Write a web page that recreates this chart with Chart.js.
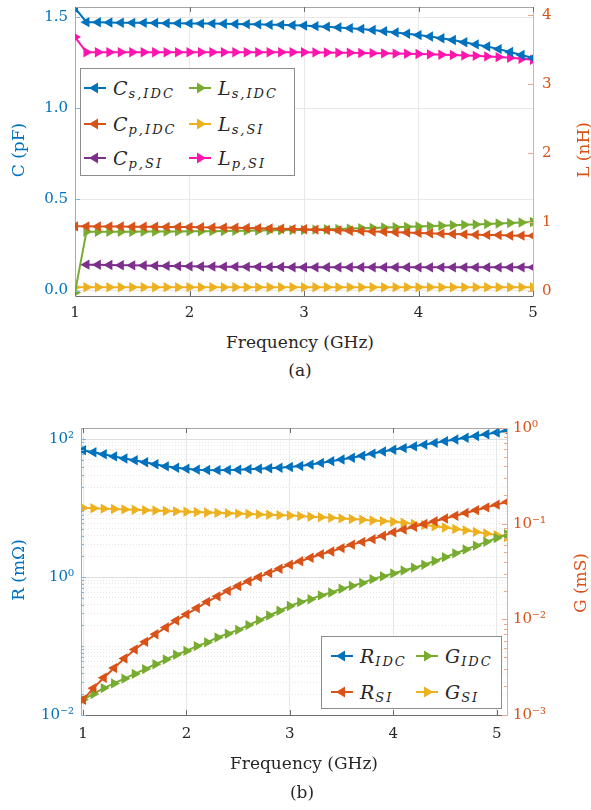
<!DOCTYPE html>
<html>
<head>
<meta charset="utf-8">
<script src="https://cdn.jsdelivr.net/npm/chart.js@4.4.1/dist/chart.umd.min.js"></script>
<style>
body { margin: 0; background: #fff; }
#wrap { position: relative; width: 591px; height: 810px; font-family: 'DejaVu Serif', serif; color: #262626; }
canvas { position: absolute; left: 0; }
.lbl { position: absolute; white-space: nowrap; font-family: 'DejaVu Serif', serif; font-size: 17px; transform: translate(-50%, -50%); }
.rot { transform: translate(-50%, -50%) rotate(-90deg); }
.legend { position: absolute; border: 1px solid #8c8c8c; background: #fff; box-sizing: border-box; }
.item { position: absolute; display: flex; align-items: center; white-space: nowrap; font-family: 'DejaVu Serif', serif; }
.item svg { margin-right: 7px; }
.m { font-style: italic; font-size: 19px; }
.s { font-style: italic; font-size: 13px; position: relative; top: 5px; letter-spacing: 2px; margin-left: 1px; }
</style>
</head>
<body>
<div id="wrap">
  <canvas id="chartA" width="591" height="330" style="top:0"></canvas>
  <canvas id="chartB" width="591" height="345" style="top:410px"></canvas>

  <div class="lbl rot" style="left:18px;top:150px;color:#0072BD">C (pF)</div>
  <div class="lbl rot" style="left:583px;top:150px;color:#D95319">L (nH)</div>
  <div class="lbl" style="left:300px;top:342px">Frequency (GHz)</div>
  <div class="lbl" style="left:300px;top:370px">(a)</div>

  <div class="lbl rot" style="left:18px;top:570px;color:#0072BD">R (mΩ)</div>
  <div class="lbl rot" style="left:580px;top:583px;color:#D95319">G (mS)</div>
  <div class="lbl" style="left:304px;top:763px">Frequency (GHz)</div>
  <div class="lbl" style="left:302px;top:792px">(b)</div>

  <div id="legA" class="legend" style="left:80px;top:68px;width:215px;height:108px"></div>
  <div id="legB" class="legend" style="left:321px;top:636px;width:181px;height:73px"></div>
</div>

<script>
// ---------- données (a) : C en pF, L en nH ----------
const freqA = [1.0, 1.1, 1.2, 1.3, 1.4, 1.5, 1.6, 1.7, 1.8, 1.9,
               2.0, 2.1, 2.2, 2.3, 2.4, 2.5, 2.6, 2.7, 2.8, 2.9,
               3.0, 3.1, 3.2, 3.3, 3.4, 3.5, 3.6, 3.7, 3.8, 3.9,
               4.0, 4.1, 4.2, 4.3, 4.4, 4.5, 4.6, 4.7, 4.8, 4.9, 5.0];
const csIdc = [1.550, 1.472, 1.471, 1.470, 1.469, 1.468, 1.468, 1.467, 1.466, 1.466,
               1.465, 1.464, 1.464, 1.463, 1.462, 1.461, 1.460, 1.458, 1.457, 1.455,
               1.453, 1.450, 1.447, 1.443, 1.439, 1.435, 1.429, 1.422, 1.415, 1.408,
               1.401, 1.393, 1.384, 1.374, 1.362, 1.350, 1.338, 1.324, 1.308, 1.292, 1.275];
const cpIdc = [0.352, 0.352, 0.351, 0.351, 0.351, 0.350, 0.350, 0.350, 0.349, 0.349,
               0.348, 0.347, 0.346, 0.345, 0.344, 0.343, 0.342, 0.340, 0.339, 0.337,
               0.336, 0.334, 0.332, 0.330, 0.328, 0.326, 0.324, 0.322, 0.320, 0.318,
               0.316, 0.314, 0.312, 0.310, 0.308, 0.306, 0.305, 0.304, 0.302, 0.301, 0.300];
const cpSi = [null, 0.142, 0.141, 0.140, 0.139, 0.138, 0.137, 0.136, 0.135, 0.134,
              0.133, 0.132, 0.132, 0.131, 0.131, 0.130, 0.130, 0.129, 0.129, 0.128,
              0.128, 0.128, 0.128, 0.128, 0.128, 0.128, 0.128, 0.128, 0.128, 0.128,
              0.127, 0.127, 0.127, 0.127, 0.127, 0.127, 0.127, 0.127, 0.127, 0.127, 0.127];
const lsIdc = [-0.02, 0.860, 0.860, 0.860, 0.860, 0.860, 0.861, 0.862, 0.863, 0.864,
               0.865, 0.867, 0.868, 0.870, 0.872, 0.875, 0.877, 0.879, 0.881, 0.883,
               0.885, 0.890, 0.895, 0.900, 0.905, 0.910, 0.915, 0.920, 0.925, 0.930,
               0.935, 0.941, 0.947, 0.953, 0.959, 0.965, 0.972, 0.979, 0.986, 0.993, 1.000];
const lsSi = [0.055, 0.055, 0.055, 0.055, 0.055, 0.055, 0.055, 0.055, 0.055, 0.055,
              0.055, 0.055, 0.055, 0.055, 0.055, 0.055, 0.055, 0.055, 0.055, 0.055,
              0.055, 0.055, 0.055, 0.055, 0.055, 0.055, 0.055, 0.055, 0.055, 0.055,
              0.055, 0.055, 0.055, 0.055, 0.055, 0.055, 0.055, 0.055, 0.055, 0.055, 0.055];
const lpSi = [3.68, 3.46, 3.46, 3.46, 3.46, 3.46, 3.46, 3.46, 3.46, 3.46,
              3.46, 3.46, 3.46, 3.46, 3.46, 3.46, 3.46, 3.46, 3.46, 3.46,
              3.46, 3.458, 3.456, 3.454, 3.452, 3.450, 3.447, 3.444, 3.441, 3.438,
              3.435, 3.430, 3.425, 3.420, 3.414, 3.408, 3.400, 3.390, 3.380, 3.365, 3.350];

// ---------- données (b) : R en mOhm, G en mS ----------
const freqB = [1.0, 1.1, 1.2, 1.3, 1.4, 1.5, 1.6, 1.7, 1.8, 1.9,
               2.0, 2.1, 2.2, 2.3, 2.4, 2.5, 2.6, 2.7, 2.8, 2.9,
               3.0, 3.1, 3.2, 3.3, 3.4, 3.5, 3.6, 3.7, 3.8, 3.9,
               4.0, 4.1, 4.2, 4.3, 4.4, 4.5, 4.6, 4.7, 4.8, 4.9, 5.0, 5.1];
const rIdc = [69.2, 64.6, 60.3, 56.2, 52.5, 49.5, 46.2, 43.2, 40.3, 38.5,
              37.2, 36.1, 35.6, 35.5, 35.6, 35.9, 36.5, 37.2, 37.8, 38.5,
              39.4, 40.7, 42.7, 45.2, 47.9, 50.7, 53.7, 57.5, 61.7, 66.1,
              70.0, 74.1, 78.5, 83.2, 88.1, 93.3, 98.9, 104.7, 110.9, 117.5, 124.5, 131.8];
const rSi = [0.0166, 0.0245, 0.0347, 0.0479, 0.0661, 0.0891, 0.115, 0.148, 0.186, 0.234,
             0.288, 0.355, 0.437, 0.525, 0.631, 0.741, 0.871, 1.000, 1.148, 1.318,
             1.514, 1.698, 1.905, 2.138, 2.344, 2.630, 2.951, 3.236, 3.548, 3.981,
             4.467, 4.898, 5.370, 5.888, 6.457, 7.079, 7.762, 8.511, 9.333, 10.23, 11.22, 12.30];
const gIdc = [0.00145, 0.00166, 0.00191, 0.00214, 0.00240, 0.00269, 0.00302, 0.00339, 0.00380, 0.00427,
              0.00468, 0.00525, 0.00575, 0.00646, 0.00708, 0.00776, 0.00871, 0.00977, 0.01096, 0.01230,
              0.01380, 0.01514, 0.01622, 0.01778, 0.01905, 0.02089, 0.02239, 0.02399, 0.02630, 0.02818,
              0.03020, 0.03236, 0.03467, 0.03715, 0.04074, 0.04467, 0.04898, 0.05370, 0.05888, 0.06457,
              0.07079, 0.07762];
const gSi = [0.1462, 0.1449, 0.1435, 0.1422, 0.1409, 0.1396, 0.1384, 0.1371, 0.1358, 0.1346,
             0.1334, 0.1321, 0.1309, 0.1297, 0.1285, 0.1274, 0.1262, 0.1250, 0.1239, 0.1227,
             0.1216, 0.1199, 0.1183, 0.1167, 0.1151, 0.1135, 0.1117, 0.1099, 0.1081, 0.1064,
             0.1047, 0.1021, 0.0995, 0.0968, 0.0940, 0.0912, 0.0881, 0.0851, 0.0820, 0.0789,
             0.0759, 0.0724];

// ---------- graduations ----------
const xTicks = [1, 2, 3, 4, 5];
const cTicks = [0, 0.5, 1, 1.5];
const lTicks = [0, 1, 2, 3, 4];
const rTicks = [0.01, 1, 100];
const gTicks = [0.001, 0.01, 0.1, 1];

const blue = '#0072BD', orange = '#D95319', yellow = '#EDB120',
      purple = '#7E2F8E', green = '#77AC30', magenta = '#FF14AE';
const tickFont = { family: 'DejaVu Serif', size: 15 };

// Grille log : 1..9 x 10^e
function logGrid(eMin, eMax, vMax) {
    const out = [];
    for (let e = eMin; e <= eMax; e++) {
        for (let m = 1; m <= 9; m++) {
            const v = Number((m * Math.pow(10, e)).toPrecision(3));
            if (v <= vMax) out.push(v);
        }
    }
    return out;
}

const supDigits = { '-': '⁻', '0': '⁰', '1': '¹', '2': '²', '3': '³' };
function sup(v) {
    const e = String(Math.round(Math.log10(v)));
    return '10' + e.split('').map(function (c) { return supDigits[c]; }).join('');
}

function serie(xs, ys, color, axis, dir) {
    return {
        data: xs.map(function (f, i) { return { x: f, y: ys[i] }; }),
        yAxisID: axis,
        borderColor: color,
        backgroundColor: color,
        borderWidth: 2,
        pointStyle: 'triangle',
        pointRotation: dir === 'left' ? -90 : 90,
        pointRadius: 6,
        pointHoverRadius: 6,
        pointBorderWidth: 0,
        tension: 0,
        fill: false
    };
}

// Pas de marge automatique autour des étiquettes : la zone de tracé reste fixe
function noPadY(s) { s.paddingTop = 0; s.paddingBottom = 0; }
function noPadX(s) { s.paddingLeft = 0; s.paddingRight = 0; }

// Cadre haut + petites graduations internes (style MATLAB)
const frame = {
    id: 'frame',
    afterDraw: function (chart) {
        const a = chart.chartArea, ctx = chart.ctx;
        ctx.save();
        ctx.lineWidth = 1;
        ctx.strokeStyle = '#a6a6a6';
        ctx.beginPath();
        ctx.moveTo(a.left, a.top + 0.5);
        ctx.lineTo(a.right, a.top + 0.5);
        ctx.stroke();
        Object.values(chart.scales).forEach(function (s) {
            ctx.strokeStyle = s.options.border.color;
            s.ticks.forEach(function (t) {
                const p = Math.round(s.getPixelForValue(t.value)) + 0.5;
                const len = t.major === false ? 3 : 5;
                ctx.beginPath();
                if (s.axis === 'x') {
                    ctx.moveTo(p, a.bottom); ctx.lineTo(p, a.bottom - len);
                    ctx.moveTo(p, a.top); ctx.lineTo(p, a.top + len);
                } else if (s.position === 'left') {
                    ctx.moveTo(a.left, p); ctx.lineTo(a.left + len, p);
                } else {
                    ctx.moveTo(a.right, p); ctx.lineTo(a.right - len, p);
                }
                ctx.stroke();
            });
        });
        ctx.restore();
    }
};

function dessiner() {
    // ---------- Graphique (a) ----------
    new Chart(document.getElementById('chartA'), {
        type: 'line',
        data: {
            datasets: [
                serie(freqA, csIdc, blue, 'yC', 'left'),
                serie(freqA, cpIdc, orange, 'yC', 'left'),
                serie(freqA, cpSi, purple, 'yC', 'left'),
                serie(freqA, lsIdc, green, 'yL', 'right'),
                serie(freqA, lsSi, yellow, 'yL', 'right'),
                serie(freqA, lpSi, magenta, 'yL', 'right')
            ]
        },
        options: {
            responsive: false,
            animation: false,
            devicePixelRatio: 1,
            layout: { padding: { top: 7, left: 0, right: 0, bottom: 0 } },
            plugins: { legend: { display: false }, tooltip: { enabled: false } },
            scales: {
                x: {
                    type: 'linear', min: 1, max: 5,
                    afterBuildTicks: function (s) { s.ticks = xTicks.map(function (v) { return { value: v }; }); },
                    afterFit: function (s) { s.height = 34; noPadX(s); },
                    ticks: { color: '#262626', font: tickFont, padding: 8, maxRotation: 0 },
                    grid: { color: '#e8e8e8', drawTicks: false },
                    border: { color: '#6e6e6e' }
                },
                yC: {
                    type: 'linear', position: 'left', min: -0.03, max: 1.555,
                    afterBuildTicks: function (s) { s.ticks = cTicks.map(function (v) { return { value: v }; }); },
                    afterFit: function (s) { s.width = 75; noPadY(s); },
                    ticks: { color: blue, font: tickFont, padding: 7, callback: function (v) { return v.toFixed(1); } },
                    grid: { color: '#e8e8e8', drawTicks: false },
                    border: { color: '#7fb6de' }
                },
                yL: {
                    type: 'linear', position: 'right', min: -0.072, max: 4.116,
                    afterBuildTicks: function (s) { s.ticks = lTicks.map(function (v) { return { value: v }; }); },
                    afterFit: function (s) { s.width = 58; noPadY(s); },
                    ticks: { color: orange, font: tickFont, padding: 9, callback: function (v) { return String(v); } },
                    grid: { drawOnChartArea: false, drawTicks: false },
                    border: { color: '#eca98c' }
                }
            }
        },
        plugins: [frame]
    });

    // ---------- Graphique (b) ----------
    new Chart(document.getElementById('chartB'), {
        type: 'line',
        data: {
            datasets: [
                serie(freqB, rIdc, blue, 'yR', 'left'),
                serie(freqB, rSi, orange, 'yR', 'left'),
                serie(freqB, gIdc, green, 'yG', 'right'),
                serie(freqB, gSi, yellow, 'yG', 'right')
            ]
        },
        options: {
            responsive: false,
            animation: false,
            devicePixelRatio: 1,
            layout: { padding: { top: 18, left: 0, right: 0, bottom: 0 } },
            plugins: { legend: { display: false }, tooltip: { enabled: false } },
            scales: {
                x: {
                    type: 'linear', min: 0.98, max: 5.1,
                    afterBuildTicks: function (s) { s.ticks = xTicks.map(function (v) { return { value: v }; }); },
                    afterFit: function (s) { s.height = 40; noPadX(s); },
                    ticks: { color: '#262626', font: tickFont, padding: 10, maxRotation: 0 },
                    grid: { color: '#e8e8e8', drawTicks: false },
                    border: { color: '#6e6e6e' }
                },
                yR: {
                    type: 'logarithmic', position: 'left', min: 0.01, max: 145,
                    afterBuildTicks: function (s) {
                        s.ticks = logGrid(-2, 2, 145).map(function (v) { return { value: v, major: rTicks.indexOf(v) >= 0 }; });
                    },
                    afterFit: function (s) { s.width = 81; noPadY(s); },
                    ticks: {
                        color: blue, font: tickFont, padding: 7, autoSkip: false,
                        callback: function (v, i, ticks) { return ticks[i].major ? sup(v) : ''; }
                    },
                    grid: {
                        drawTicks: false,
                        color: function (ctx) { return ctx.tick && ctx.tick.major ? '#dedede' : '#e6e6e6'; }
                    },
                    border: {
                        color: '#7fb6de',
                        dash: function (ctx) { return ctx.tick && !ctx.tick.major ? [1, 2] : []; }
                    }
                },
                yG: {
                    type: 'logarithmic', position: 'right', min: 0.001, max: 1,
                    afterBuildTicks: function (s) {
                        s.ticks = logGrid(-3, 0, 1).map(function (v) { return { value: v, major: gTicks.indexOf(v) >= 0 }; });
                    },
                    afterFit: function (s) { s.width = 84; noPadY(s); },
                    ticks: {
                        color: orange, font: tickFont, padding: 6, autoSkip: false,
                        callback: function (v, i, ticks) { return ticks[i].major ? sup(v) : ''; }
                    },
                    grid: { drawOnChartArea: false, drawTicks: false },
                    border: { color: '#eca98c' }
                }
            }
        },
        plugins: [frame]
    });
}

// ---------- Légendes (HTML, avec indices) ----------
function addLegend(boxId, entries, colX, rowY) {
    const box = document.getElementById(boxId);
    entries.forEach(function (e) {
        const item = document.createElement('div');
        item.className = 'item';
        item.style.left = colX[e.col] + 'px';
        item.style.top = (rowY[e.row] - 12) + 'px';
        item.style.height = '24px';
        const tri = e.dir === 'left' ? '5,8 14,2.5 14,13.5' : '17,8 8,2.5 8,13.5';
        item.innerHTML =
            '<svg width="22" height="16"><line x1="0" y1="8" x2="22" y2="8" stroke="' + e.color +
            '" stroke-width="2"/><polygon points="' + tri + '" fill="' + e.color + '"/></svg>' +
            '<span class="m">' + e.sym + '</span><span class="s">' + e.sub + '</span>';
        box.appendChild(item);
    });
}

addLegend('legA', [
    { sym: 'C', sub: 's,IDC', color: blue, dir: 'left', col: 0, row: 0 },
    { sym: 'L', sub: 's,IDC', color: green, dir: 'right', col: 1, row: 0 },
    { sym: 'C', sub: 'p,IDC', color: orange, dir: 'left', col: 0, row: 1 },
    { sym: 'L', sub: 's,SI', color: yellow, dir: 'right', col: 1, row: 1 },
    { sym: 'C', sub: 'p,SI', color: purple, dir: 'left', col: 0, row: 2 },
    { sym: 'L', sub: 'p,SI', color: magenta, dir: 'right', col: 1, row: 2 }
], [3, 108], [19, 55, 89]);

addLegend('legB', [
    { sym: 'R', sub: 'IDC', color: blue, dir: 'left', col: 0, row: 0 },
    { sym: 'G', sub: 'IDC', color: green, dir: 'right', col: 1, row: 0 },
    { sym: 'R', sub: 'SI', color: orange, dir: 'left', col: 0, row: 1 },
    { sym: 'G', sub: 'SI', color: yellow, dir: 'right', col: 1, row: 1 }
], [9, 94], [19, 55]);

if (document.fonts && document.fonts.load) {
    document.fonts.load('15px "DejaVu Serif"').then(dessiner, dessiner);
} else {
    dessiner();
}
</script>
</body>
</html>
